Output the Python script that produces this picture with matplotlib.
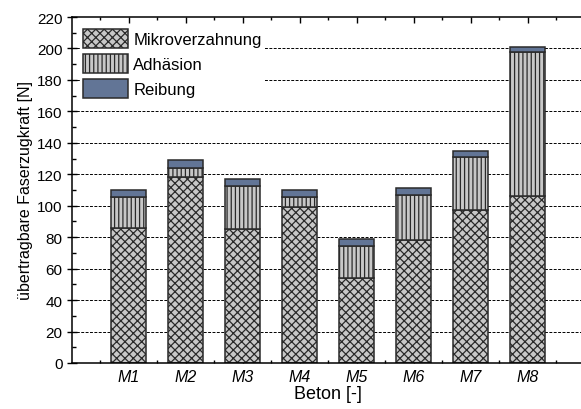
import numpy as np
import matplotlib
matplotlib.use("Agg")
import matplotlib.pyplot as plt
from matplotlib.ticker import MultipleLocator, FixedLocator

# Fasermechanismen je Beton
betone = ["M1", "M2", "M3", "M4", "M5", "M6", "M7", "M8"]
mikroverzahnung = [86, 118, 85, 99, 54, 78, 97, 106]
adhaesion = [19.5, 6, 27.5, 6.5, 20.5, 29, 34, 91.5]
reibung = [4.5, 5, 4.5, 4.5, 4.5, 4, 4, 3.5]

plt.rcParams["font.family"] = ["Liberation Sans", "DejaVu Sans"]
plt.rcParams["hatch.linewidth"] = 0.9

fig = plt.figure(figsize=(5.81, 4.10), dpi=100)
ax = fig.add_axes([71.5 / 581, 46 / 410, 513 / 581, 346 / 410])

x = np.arange(1, len(betone) + 1)
mikro = np.array(mikroverzahnung)
adh = np.array(adhaesion)
reib = np.array(reibung)
w = 0.6

ax.bar(x, mikro, w, color="#c8c8c8", edgecolor="#2a2a2a", hatch="xxxx",
       linewidth=1.1, label="Mikroverzahnung")
ax.bar(x, adh, w, bottom=mikro, color="#c8c8c8", edgecolor="#2a2a2a",
       hatch="||||", linewidth=1.1, label="Adhäsion")
ax.bar(x, reib, w, bottom=mikro + adh, color="#627596", edgecolor="#2a2a2a",
       linewidth=1.1, label="Reibung")

ax.set_xlim(0, 9)
ax.set_ylim(0, 220)
ax.set_axisbelow(True)

# gestrichelte Hilfslinien
for yv in range(20, 220, 20):
    ax.axhline(yv, color="black", lw=0.7, ls=(0, (3, 1.5)), zorder=0)

ax.yaxis.set_major_locator(MultipleLocator(20))
ax.yaxis.set_minor_locator(MultipleLocator(10))
ax.xaxis.set_major_locator(FixedLocator(x))
ax.xaxis.set_minor_locator(FixedLocator(np.arange(0.5, 9.0, 1.0)))
ax.set_xticklabels(betone, fontstyle="italic", fontsize=11.5)

ax.tick_params(axis="y", which="major", direction="inout", length=7,
               width=1, labelsize=11, pad=3)
ax.tick_params(axis="y", which="minor", direction="in", length=3, width=1)
ax.tick_params(axis="x", which="major", direction="in", length=4.5,
               width=1, top=True, pad=4)
ax.tick_params(axis="x", which="minor", direction="in", length=2.5,
               width=1, top=True)

ax.spines["right"].set_visible(False)
for s in ["left", "top", "bottom"]:
    ax.spines[s].set_linewidth(1.1)

ax.set_xlabel("Beton [-]", fontsize=13, labelpad=1)
ax.set_ylabel("übertragbare Faserzugkraft [N]", fontsize=11.5, labelpad=3)

leg = ax.legend(loc="upper left", fontsize=12, frameon=True,
                facecolor="white", edgecolor="none", framealpha=1,
                handlelength=2.7, handleheight=1.4, handletextpad=0.3,
                labelspacing=0.35, borderpad=0.2, borderaxespad=0.5)
leg.get_frame().set_linewidth(0)

fig.savefig("out.png", dpi=100)
